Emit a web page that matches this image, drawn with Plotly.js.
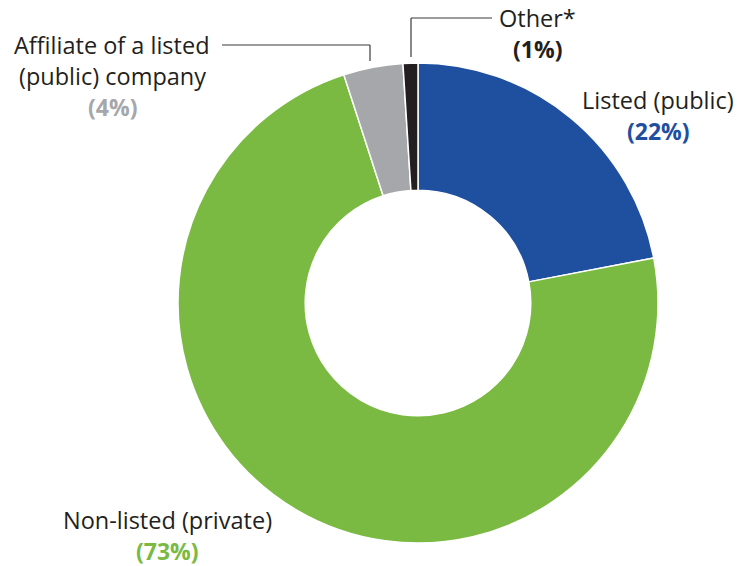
<!DOCTYPE html>
<html><head><meta charset="utf-8">
<script src="https://cdn.plot.ly/plotly-3.0.1.min.js"></script>
<style>body{margin:0;background:#fff}#c{width:740px;height:566px}</style>
</head><body><div id="c"></div>
<script>
const categories = ["Listed (public)", "Non-listed (private)", "Affiliate of a listed (public) company", "Other*"];
const values = [22, 73, 4, 1];
const colors = ["#1f4f9f", "#7aba42", "#a5a7aa", "#231f20"];
const labelLines = [["Listed (public)"], ["Non-listed (private)"], ["Affiliate of a listed", "(public) company"], ["Other*"]];
const pctColors = ["#1f4f9f", "#7aba42", "#a5a7aa", "#231f20"];

const W = 740, H = 566;
const px = x => x / W, py = y => 1 - y / H;
const FONT = "Open Sans, Noto Sans, sans-serif";

// label anchor positions (centre x, first-line y) in pixels
const labelPos = [[658, 100], [167, 520], [112, 45], [537, 18]];
const lineH = 31;

const annotations = [];
categories.forEach((c, i) => {
  const lines = labelLines[i];
  lines.forEach((t, j) => {
    annotations.push({xref: "paper", yref: "paper", x: px(labelPos[i][0]), y: py(labelPos[i][1] + j * lineH),
      text: t, showarrow: false, xanchor: "center", yanchor: "middle",
      font: {family: FONT, size: 23.5, color: "#231f20"}});
  });
  annotations.push({xref: "paper", yref: "paper", x: px(labelPos[i][0]), y: py(labelPos[i][1] + lines.length * lineH),
    text: "<b>(" + values[i] + "%)</b>", showarrow: false, xanchor: "center", yanchor: "middle",
    font: {family: FONT, size: 23, color: pctColors[i]}});
});

const lineStyle = {color: "#3a3a3a", width: 1.2};
const shapes = [
  {type: "line", xref: "paper", yref: "paper", x0: px(222), y0: py(45), x1: px(370), y1: py(45), line: lineStyle},
  {type: "line", xref: "paper", yref: "paper", x0: px(370), y0: py(45), x1: px(370), y1: py(61), line: lineStyle},
  {type: "line", xref: "paper", yref: "paper", x0: px(411), y0: py(18), x1: px(492), y1: py(18), line: lineStyle},
  {type: "line", xref: "paper", yref: "paper", x0: px(411), y0: py(18), x1: px(411), y1: py(57), line: lineStyle}
];

const trace = {
  type: "pie", labels: categories, values: values, hole: 0.47, sort: false,
  direction: "clockwise", rotation: 0,
  marker: {colors: colors, line: {color: "#ffffff", width: 1.5}},
  textinfo: "none", hoverinfo: "label+percent", showlegend: false,
  domain: {x: [178 / W, 658 / W], y: [1 - 543 / H, 1 - 63 / H]}
};

Plotly.newPlot("c", [trace], {
  width: W, height: H, margin: {l: 0, r: 0, t: 0, b: 0},
  paper_bgcolor: "#ffffff", plot_bgcolor: "#ffffff",
  annotations: annotations, shapes: shapes, showlegend: false
}, {displayModeBar: false, staticPlot: true});
</script></body></html>
